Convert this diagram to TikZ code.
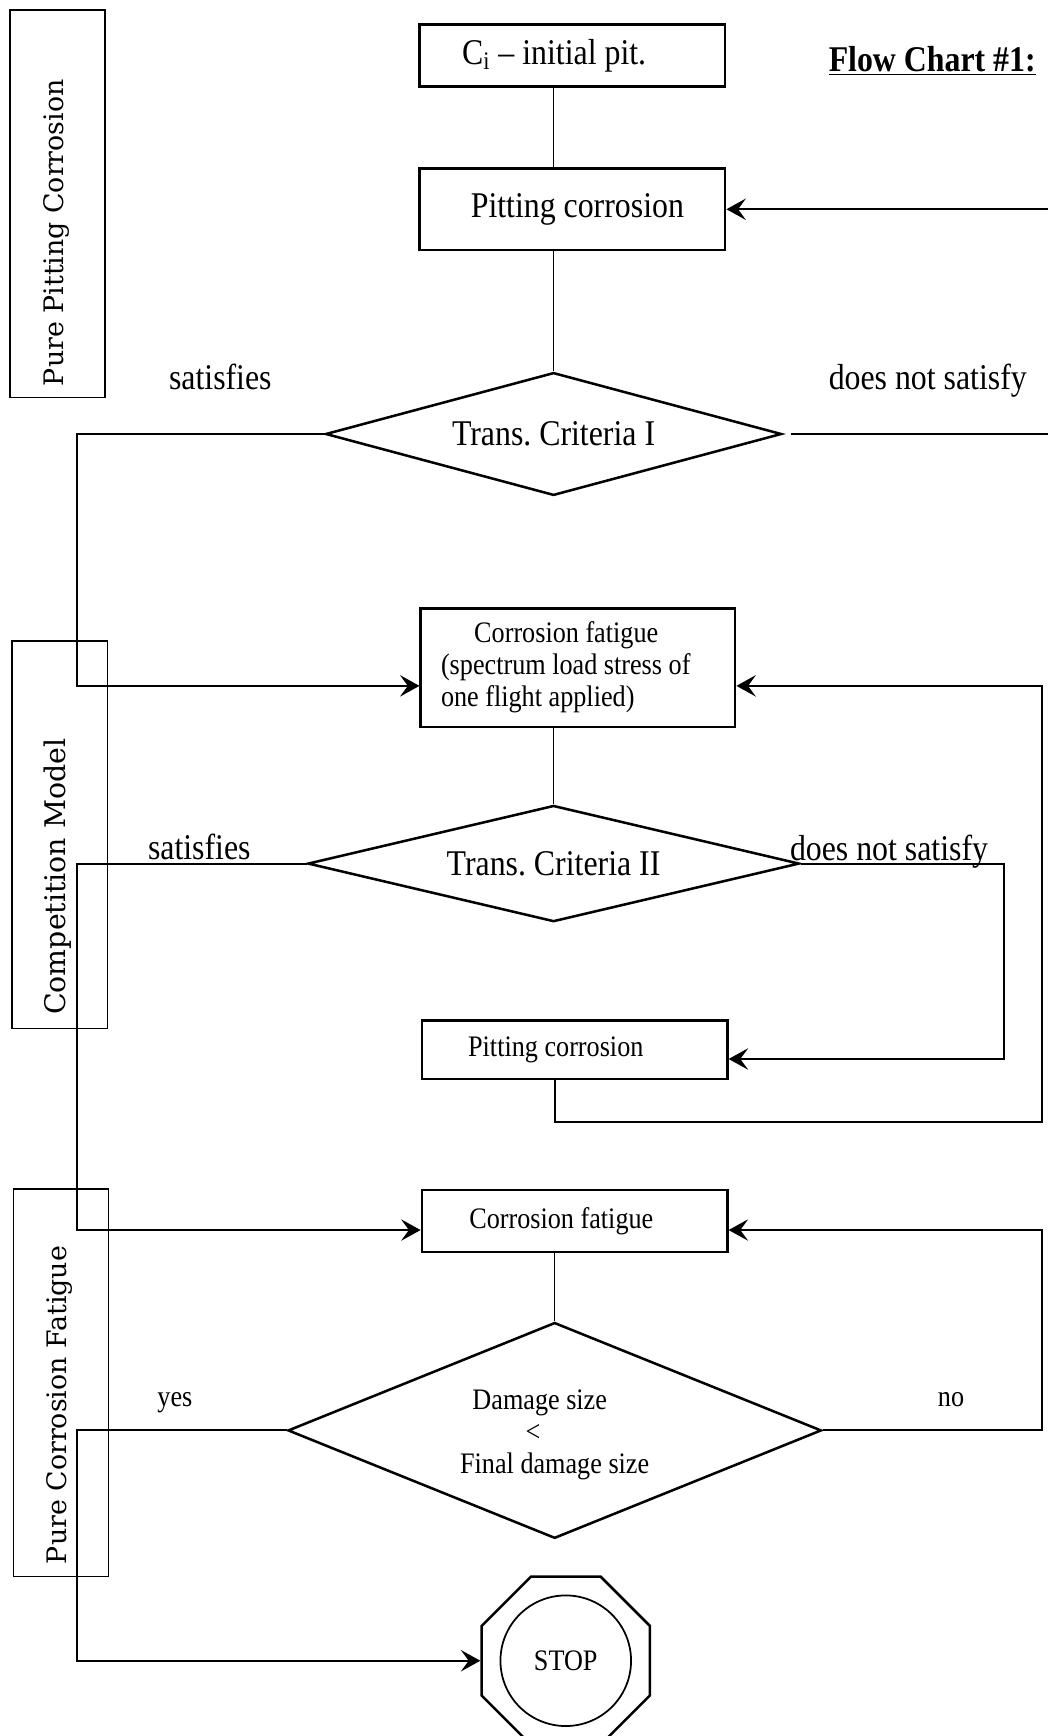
\documentclass[tikz,border=0pt]{standalone}
\usepackage{fontspec}
\setmainfont[FakeStretch=0.88]{Liberation Serif}
\newfontfamily\sidefont{DejaVu Serif}
\usetikzlibrary{shapes.geometric,arrows.meta}

\newcommand{\chartbig}{\fontsize{18.6}{22}\selectfont}
\newcommand{\chartsmall}{\fontsize{15.3}{16.5}\selectfont}
\newcommand{\chartside}{\sidefont\fontsize{13.8}{16}\selectfont}

\tikzset{
  box/.style={draw, line width=1.3pt, minimum width=5.52cm, inner xsep=0pt},
  decide/.style={diamond, draw, line width=1.3pt, inner sep=0pt, align=center},
  sidebox/.style={draw, line width=0.8pt, rotate=90, minimum height=1.72cm,
    minimum width=7cm, inner xsep=0.24cm},
  sidetext/.style={rotate=90, anchor=base west, inner sep=0pt, font=\chartside},
  flow/.style={line width=1pt, -{Stealth[length=10pt,width=11pt,inset=4pt]}},
  link/.style={line width=0.7pt},
}

\begin{document}
\begin{tikzpicture}[x=0.02cm, y=-0.02cm]
    \useasboundingbox (0,0) rectangle (946,1568);

    % side labels
    \node[sidebox] (pure) at (52,184) {};
    \node[sidebox] (comp) at (54,754) {};
    \node[sidebox] (purecf) at (55,1249) {};
    \node[sidetext] (puretxt) at (57,349) {Pure Pitting Corrosion};
    \node[sidetext, font=\sidefont\fontsize{14.6}{16}\selectfont] (comptxt) at (59,917) {Competition Model};
    \node[sidetext] (purecftxt) at (60,1413) {Pure Corrosion Fatigue};

    \node[font=\chartbig\bfseries] (title) at (842,55) {\underline{Flow Chart \#1:}};

    % pure pitting
    \node[box, minimum height=1.12cm, font=\chartbig] (init) at (517,50) {C\textsubscript{i} -- initial pit.\hspace*{0.66cm}};
    \node[box, minimum height=1.48cm, font=\chartbig] (pit) at (517,189) {\hspace*{0.18cm}Pitting corrosion};
    \node[decide, minimum width=8.24cm, minimum height=2.22cm, aspect=3.7, font=\chartbig] (crit1) at (500,392) {Trans.\ Criteria I};
    \node[font=\chartbig, anchor=base] (sat1) at (199,352) {satisfies};
    \node[font=\chartbig, anchor=base] (nsat1) at (838,352) {does not satisfy};

    % competition
    \node[box, minimum width=5.68cm, minimum height=2.14cm, align=left, font=\chartsmall] (fat) at (522,603) {\hspace*{0.6cm}Corrosion fatigue\\(spectrum load stress of\rule{0.44cm}{0pt}\\one flight applied)};
    \node[decide, minimum width=8.88cm, minimum height=2.1cm, aspect=4.2, font=\chartbig] (crit2) at (500,780) {Trans.\ Criteria II};
    \node[font=\chartbig, anchor=base] (sat2) at (180,776) {satisfies};
    \node[font=\chartbig, anchor=base] (nsat2) at (803,777) {does not satisfy};
    \node[box, minimum height=1.06cm, font=\chartsmall] (pit2) at (519,948) {Pitting corrosion\hspace*{0.68cm}};

    % pure corrosion fatigue
    \node[box, minimum height=1.12cm, font=\chartsmall] (cf) at (519,1103) {Corrosion fatigue\hspace*{0.48cm}};
    \node[decide, minimum width=9.64cm, minimum height=3.9cm, aspect=2.5, font=\chartsmall] (crit3) at (501,1292) {\rule{0pt}{0.52cm}Damage size\rule{0.54cm}{0pt}\\<\rule{0.78cm}{0pt}\\Final damage size};
    \node[font=\chartsmall, anchor=base] (yes) at (158,1270) {yes};
    \node[font=\chartsmall, anchor=base] (no) at (859,1270) {no};
    \node[regular polygon, regular polygon sides=8, draw, line width=1.3pt, minimum size=3.29cm, inner sep=0pt] (oct) at (511,1500) {};
    \node[circle, draw, line width=0.9pt, minimum size=2.36cm, inner sep=0pt, font=\chartsmall] (stop) at (511,1500) {STOP};

    % connectors
    \draw[link] (init.south -| crit1.north) -- (pit.north -| crit1.north);
    \draw[link] (pit.south -| crit1.north) -- (crit1.north);
    \draw[flow] (crit1.west) -- ++(-223,0) |- ([yshift=-0.33cm]fat.west);
    \draw[flow, shorten <=0.14cm] (crit1.east) -- ++(260,0) |- (pit.east);

    \draw[link] (fat.south -| crit2.north) -- (crit2.north);
    \draw[flow] (crit2.west) -- ++(-207,0) |- ([yshift=-0.16cm]cf.west);
    \draw[flow] (crit2.east) -- ++(184,0) |- ([yshift=-0.17cm]pit2.east);
    \draw[flow] ([xshift=-0.36cm]pit2.south) |- ++(440,38) |- ([yshift=-0.33cm]fat.east);

    \draw[link] (cf.south -| crit3.north) -- (crit3.north);
    \draw[flow] (crit3.west) -- ++(-189,0) |- (oct.west);
    \draw[flow] (crit3.east) -- ++(198,0) |- ([yshift=-0.16cm]cf.east);

\end{tikzpicture}
\end{document}
